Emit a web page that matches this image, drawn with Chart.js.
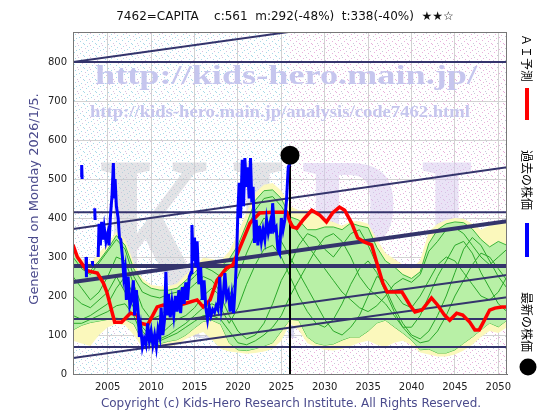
<!DOCTYPE html>
<html>
<head>
<meta charset="utf-8">
<script src="https://cdn.jsdelivr.net/npm/chart.js@4"></script>
<style>html,body{margin:0;padding:0;background:#fff}</style>
</head>
<body>
<canvas id="chart" width="560" height="420"></canvas>
<script>
// ---- data ----
const years = [];
for (let y = 2001; y <= 2051; y++) years.push(y);

// outer (yellow) and inner (green) bands of simulated paths
const yellowHigh = [328,295,285,310,335,365,345,285,245,228, 225,225,232,255,275,298,295,290,315,360,
  415,465,485,490,470,430,420,420,413,395, 390,380,392,392,385,345,310,295,280,270,
  292,365,385,395,400,398,385,370,380,387, 390];
const yellowLow = [85,78,72,100,120,128,125,100,68,62, 66,70,75,90,100,108,88,65,58,55,
  52,54,58,64,85,130,113,79,70,62, 60,65,72,80,85,75,69,80,85,74,
  55,50,45,45,50,60,75,95,110,105, 120];
const greenHigh = [318,280,265,290,320,355,330,270,235,220, 215,215,220,240,260,282,280,275,295,330,
  385,445,470,472,450,403,395,370,370,377, 377,370,387,380,375,325,290,275,255,245,
  262,335,370,385,390,388,372,345,326,340, 330];
const greenLow = [113,125,132,136,140,145,140,128,85,70, 78,84,88,100,118,135,138,128,80,62,
  60,65,72,80,110,140,138,95,79,74, 77,87,95,95,110,131,138,121,105,87,
  62,64,54,54,62,79,95,113,131,121, 138];

// thin simulated paths
const path1 = [300,270,255,285,315,345,320,250,210,200, 195,205,210,230,250,275,265,250,270,310,
  370,420,450,455,430,395,360,330,300,270, 240,210,190,170,160,175,200,230,245,235,
  255,315,340,370,375,360,330,300,280,300, 320];
const path2 = [150,140,150,165,180,220,250,200,120,95, 100,120,140,150,170,200,220,200,150,110,
  90,100,130,180,240,280,330,360,350,320, 300,330,360,370,330,280,220,170,130,100,
  90,110,150,200,260,320,350,330,290,250, 220];
const path3 = [250,220,190,210,250,300,290,230,170,140, 150,170,190,210,230,250,240,210,200,250,
  310,360,400,380,340,300,260,220,180,140, 110,100,120,150,200,250,240,210,180,170,
  200,240,280,300,290,260,230,200,190,210, 250];
const path4 = [200,180,170,190,210,250,210,170,110,85, 90,100,115,130,150,170,180,170,130,170,
  230,280,320,330,300,250,200,160,130,120, 140,180,230,270,290,260,210,160,120,95,
  80,85,110,150,200,240,280,310,300,270, 240];
const path5 = [130,130,140,150,160,175,180,150,95,80, 85,95,105,120,135,150,150,140,110,80,
  75,85,100,120,150,200,240,280,320,350, 360,340,300,250,220,200,180,150,120,120,
  150,200,250,290,330,340,310,260,220,180, 160];

// AI forecast (red)
const forecastYears = [2001.0,2001.5,2002.6,2003.8,2004.5,2004.9,2005.6,2005.8,2006.6,2007.6,2008.4,2008.7,
  2009.6,2010.7,2011.4,2012.5,2014.1,2015.3,2016.0,2016.8,2017.6,2018.7,2019.4,2020.2,2021.4,2022.5,
  2024.0,2025.6,2026.0,2026.3,2026.8,2027.5,2028.5,2029.4,2030.2,2030.9,2031.7,2032.3,2033.1,2033.8,
  2034.6,2035.4,2036.0,2036.7,2037.2,2038.1,2038.9,2039.8,2040.4,2041.2,2042.3,2043.0,2043.8,2044.4,
  2045.2,2045.9,2046.7,2047.3,2047.8,2048.4,2049.0,2049.6,2050.4,2051.0];
const forecastValues = [331,300,265,259,233,210,150,133,133,156,151,131,
  126,172,177,172,182,190,172,190,241,272,279,323,387,413,
  415,415,390,377,374,395,420,408,390,413,428,420,387,349,
  338,331,285,233,210,210,210,177,159,164,195,177,151,138,
  156,151,133,113,113,138,164,169,172,172];

// past prices (blue), null = gap
const priceYears = [1.95,2.0,2.05,2.06, 2.5,2.55,2.56, 3.2,3.25,3.26, 3.5,3.55,3.56,
  3.9,4.0,4.15,4.3,4.45,4.6,4.8,5.0,5.15,5.3,5.5,5.65,5.75,5.85,6.0,6.2,6.35,6.5,6.7,6.85,
  7.0,7.15,7.35,7.55,7.75,7.95,8.1,8.3,8.5,8.65,8.8,9.0,9.2,9.4,9.6,9.8,10.0,10.2,10.4,10.6,10.8,
  11.0,11.15,11.35,11.55,11.7,11.85,12.0,12.2,12.4,12.6,12.8,13.0,13.2,13.4,13.6,13.8,14.0,14.2,
  14.4,14.6,14.7,14.85,15.0,15.15,15.3,15.5,15.7,15.9,16.1,16.3,16.5,16.7,16.9,17.1,17.3,17.5,17.7,
  17.9,18.1,18.3,18.5,18.7,18.9,19.1,19.3,19.5,19.7,19.85,20.0,20.15,20.3,20.5,20.65,20.8,20.95,
  21.1,21.3,21.45,21.6,21.75,21.9,22.1,22.3,22.5,22.7,22.9,23.1,23.3,23.5,23.7,23.85,24.0,24.2,
  24.4,24.6,24.8,25.0,25.2,25.4,25.6,25.8,26.0].map(v => 2000 + v);
const priceValues = [505,536,500,null, 300,248,null, 280,290,null, 425,395,null,
  300,385,330,390,345,375,340,360,330,400,460,541,450,500,430,400,350,345,300,250,
  270,190,250,175,190,240,150,215,160,95,120,70,90,75,130,85,110,75,100,70,115,
  95,170,100,140,262,150,205,145,185,150,200,160,215,156,223,180,235,190,
  249,260,382,290,350,274,340,230,274,190,240,170,140,172,150,165,158,175,165,
  249,170,200,259,197,210,160,200,156,230,300,420,490,400,549,430,554,480,
  530,450,554,440,480,336,395,330,380,340,370,345,395,362,385,360,438,370,
  377,320,310,400,370,395,446,531,540];

const latestYear = 2026.0;
const latestPrice = 561;

// support / resistance levels and trend channel
const levels = [800, 415, 277, 141, 69];
const channelFrom = [2001, 2001, 2001, 2001, 2014];
const channelStart = [800, 372, 236, 41, 140];
const channelEnd = [955, 530, 392, 197, 254];

const xTicks = [2005, 2010, 2015, 2020, 2025, 2030, 2035, 2040, 2045, 2050];
const yTicks = [0, 100, 200, 300, 400, 500, 600, 700, 800];

// ---- styles ----
const levelWidths = [2, 2, 4, 2, 2];
const channelWidths = [2, 2, 4, 2, 2];
const NAVY = '#34346c';

const toPts = (xs, ys) => xs.map((x, i) => ({x: x, y: ys[i]}));

const datasets = [
  {data: toPts(years, yellowLow), borderWidth: 0, order: 100},
  {data: toPts(years, yellowHigh), borderWidth: 0, fill: '-1', backgroundColor: '#fbf8bc', order: 99},
  {data: toPts(years, greenLow), borderWidth: 1, borderColor: '#3cb83c', order: 98},
  {data: toPts(years, greenHigh), borderWidth: 1, borderColor: '#3cb83c', fill: '-1', backgroundColor: '#b8f0a6', order: 97}
];
[path1, path2, path3, path4, path5].forEach(p => {
  datasets.push({data: toPts(years, p), borderWidth: 1, borderColor: '#2aa82a', order: 90});
});
levels.forEach((v, i) => {
  datasets.push({data: [{x: 2001, y: v}, {x: 2051, y: v}], borderWidth: levelWidths[i], borderColor: NAVY, order: 80});
});
channelStart.forEach((v, i) => {
  datasets.push({data: [{x: channelFrom[i], y: v}, {x: 2051, y: channelEnd[i]}], borderWidth: channelWidths[i], borderColor: NAVY, order: 80});
});
datasets.push({data: [{x: latestYear, y: 0}, {x: latestYear, y: latestPrice}], borderWidth: 2, borderColor: '#000', order: 70});
datasets.push({data: toPts(forecastYears, forecastValues), borderWidth: 3.5, borderColor: '#ff0000', order: 60});
datasets.push({data: toPts(priceYears, priceValues), borderWidth: 3, borderColor: '#0000ff', spanGaps: false, order: 50});
datasets.push({data: [{x: latestYear, y: latestPrice}], showLine: false, pointRadius: 9.5, backgroundColor: '#000', borderWidth: 0, order: 40});

// faint scattered dots for the plot background
const dotSpots = [[1,0],[7,1],[4,2],[10,3],[2,4],[8,5],[5,7],[11,7],[0,8],[6,9],[3,10],[9,11]];
function dotPattern(ctx, c1, c2) {
  const p = document.createElement('canvas');
  p.width = 12; p.height = 12;
  const g = p.getContext('2d');
  g.fillStyle = '#fff'; g.fillRect(0, 0, 12, 12);
  dotSpots.forEach(([x, y], i) => {
    g.fillStyle = i % 3 === 0 ? c2 : c1;
    g.fillRect(x, y, 1, 1);
  });
  return ctx.createPattern(p, 'repeat');
}

function fitText(ctx, text, cx, y, width) {
  const w = ctx.measureText(text).width;
  ctx.save();
  ctx.translate(cx, y);
  ctx.scale(width / w, 1);
  ctx.textAlign = 'center';
  ctx.fillText(text, 0, 0);
  ctx.restore();
}

function rotText(ctx, text, x, y, angle) {
  ctx.save();
  ctx.translate(x, y);
  ctx.rotate(angle);
  ctx.textAlign = 'center';
  ctx.textBaseline = 'middle';
  ctx.fillText(text, 0, 0);
  ctx.restore();
}

const backdrop = {
  id: 'backdrop',
  beforeDraw(chart) {
    const {ctx, chartArea: a} = chart;
    const xNow = chart.scales.x.getPixelForValue(latestYear);
    ctx.save();
    ctx.fillStyle = '#fff';
    ctx.fillRect(0, 0, chart.width, chart.height);
    ctx.fillStyle = dotPattern(ctx, '#a8d8e8', '#d8c0e0');
    ctx.fillRect(a.left, a.top, xNow - a.left, a.bottom - a.top);
    ctx.fillStyle = dotPattern(ctx, '#e8b0dc', '#c8c8d8');
    ctx.fillRect(xNow, a.top, a.right - xNow, a.bottom - a.top);
    ctx.restore();
  },
  beforeDatasetsDraw(chart) {
    const ctx = chart.ctx;
    ctx.save();
    // big KIRI letters
    ctx.save();
    ctx.scale(1, 1.5);
    ctx.font = 'bold 150px "Liberation Serif"';
    ctx.textAlign = 'center';
    ctx.fillStyle = 'rgba(200,200,206,0.5)';
    ctx.fillText('K', 157, 310 / 1.5);
    ctx.fillText('I', 258, 310 / 1.5);
    ctx.fillStyle = 'rgba(214,200,238,0.5)';
    ctx.fillText('R', 355, 310 / 1.5);
    ctx.fillText('I', 447, 310 / 1.5);
    ctx.restore();
    ctx.fillStyle = '#c6c6ee';
    ctx.font = 'bold 28px "Liberation Serif"';
    fitText(ctx, 'http://kids-hero.main.jp/', 286, 84, 382);
    ctx.font = 'bold 16px "Liberation Serif"';
    fitText(ctx, 'http://kids-hero.main.jp/analysis/code7462.html', 280, 117, 380);
    ctx.fillStyle = 'rgba(180,180,220,0.55)';
    ctx.font = 'bold 28px "Liberation Serif"';
    fitText(ctx, 'Kids-hero.main.jp', 308, 338, 320);
    ctx.restore();
  },
  afterDraw(chart) {
    const {ctx, chartArea: a} = chart;
    ctx.save();
    ctx.strokeStyle = '#777';
    ctx.lineWidth = 1;
    ctx.strokeRect(a.left + 0.5, a.top + 0.5, a.right - a.left - 1, a.bottom - a.top);
    ctx.fillStyle = '#111';
    ctx.font = '12px "DejaVu Sans"';
    ctx.textAlign = 'center';
    ctx.textBaseline = 'middle';
    ctx.fillText('7462=CAPITA    c:561  m:292(-48%)  t:338(-40%)  \u2605\u2605\u2606', 285, 17);
    ctx.fillStyle = '#4a4a8c';
    ctx.font = '12px "DejaVu Sans"';
    ctx.fillText('Copyright (c) Kids-Hero Research Institute. All Rights Reserved.', 291, 404);
    ctx.font = '13px "DejaVu Sans"';
    rotText(ctx, 'Generated on Monday 2026/1/5.', 35, 199, -Math.PI / 2);
    // right legend
    ctx.fillStyle = '#000';
    ctx.font = '12px "Noto Sans CJK JP"';
    rotText(ctx, '\uFF21\uFF29\u4E88\u6E2C', 527, 58, Math.PI / 2);
    rotText(ctx, '\u904E\u53BB\u306E\u682A\u4FA1', 527, 180, Math.PI / 2);
    rotText(ctx, '\u6700\u65B0\u306E\u682A\u4FA1', 527, 322, Math.PI / 2);
    ctx.fillStyle = '#ff0000';
    ctx.fillRect(525, 88, 4, 32);
    ctx.fillStyle = '#0000ff';
    ctx.fillRect(525, 223, 4, 34);
    ctx.fillStyle = '#000';
    ctx.beginPath();
    ctx.arc(528, 367, 8.5, 0, Math.PI * 2);
    ctx.fill();
    ctx.restore();
  }
};

new Chart(document.getElementById('chart'), {
  type: 'line',
  data: {datasets: datasets},
  options: {
    responsive: false,
    animation: false,
    devicePixelRatio: 1,
    layout: {padding: {top: 32, right: 53, left: 0, bottom: 0}},
    plugins: {legend: {display: false}, tooltip: {enabled: false}},
    elements: {point: {radius: 0}, line: {tension: 0}},
    scales: {
      x: {
        type: 'linear', min: 2001, max: 2051,
        afterFit: s => { s.height = 46; },
        afterBuildTicks: s => { s.ticks = xTicks.map(v => ({value: v})); },
        grid: {color: '#d2d2d2', drawTicks: false},
        border: {color: '#666'},
        ticks: {padding: 7, color: '#222', maxRotation: 0, font: {family: 'DejaVu Sans', size: 10}, callback: v => String(v)}
      },
      y: {
        min: 0, max: 877,
        afterFit: s => { s.width = 73; },
        afterBuildTicks: s => { s.ticks = yTicks.map(v => ({value: v})); },
        grid: {color: '#d2d2d2', drawTicks: false},
        border: {color: '#666'},
        ticks: {padding: 6, color: '#222', font: {family: 'DejaVu Sans', size: 10}, callback: v => String(v)}
      }
    }
  },
  plugins: [backdrop]
});
</script>
</body>
</html>
